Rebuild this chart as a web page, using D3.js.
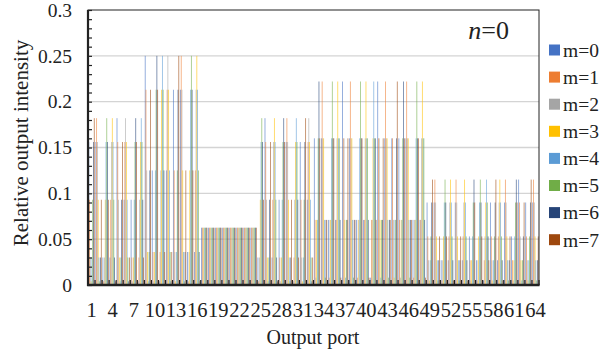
<!DOCTYPE html>
<html>
<head>
<meta charset="utf-8">
<script src="https://cdn.jsdelivr.net/npm/d3@7"></script>
<style>
  html, body { margin: 0; padding: 0; background: #fff; }
  svg { display: block; }
  text { font-family: "Liberation Serif", "Times New Roman", serif; fill: #222; }
</style>
</head>
<body>
<svg id="chart" width="603" height="356"></svg>
<script>
// Output ports 1..64
const ports = d3.range(1, 65).map(String);

// Mode labels and colours
const modes = ["m=0", "m=1", "m=2", "m=3", "m=4", "m=5", "m=6", "m=7"];
const modeColors = ["#4472C4", "#ED7D31", "#A5A5A5", "#FFC000", "#5B9BD5", "#70AD47", "#264478", "#9E480E"];

// Relative output intensity per port, one array per mode
const m0 = [0.156,0.156,0.030,0.030,0.182,0.093,0.093,0.004, 0.250,0.125,0.004,0.125,0.213,0.213,0.036,0.036,
            0.0625,0.0625,0.0625,0.0625,0.0625,0.0625,0.0625,0.0625, 0.030,0.182,0.030,0.093,0.156,0.004,0.156,0.093,
            0.160,0.160,0.071,0.071,0.222,0.160,0.071,0.071,0.008,0.222,0.160,0.160,0.160,0.160,0.071,0.071,
            0.090,0.090,0.027,0.027,0.090,0.027,0.053,0.027,0.005,0.090,0.027,0.090,0.053,0.115,0.090,0.090];
const m1 = [0.093,0.182,0.004,0.093,0.156,0.156,0.030,0.030, 0.213,0.036,0.036,0.213,0.125,0.250,0.004,0.125,
            0.0625,0.0625,0.0625,0.0625,0.0625,0.0625,0.0625,0.0625, 0.004,0.156,0.093,0.030,0.182,0.030,0.093,0.156,
            0.071,0.222,0.008,0.071,0.160,0.222,0.008,0.071,0.071,0.160,0.222,0.160,0.071,0.222,0.008,0.071,
            0.053,0.115,0.005,0.053,0.115,0.053,0.027,0.005,0.027,0.053,0.053,0.115,0.027,0.090,0.053,0.115];
const m2 = [0.030,0.156,0.030,0.156,0.093,0.182,0.004,0.093, 0.125,0.004,0.125,0.250,0.036,0.213,0.036,0.213,
            0.0625,0.0625,0.0625,0.0625,0.0625,0.0625,0.0625,0.0625, 0.030,0.093,0.156,0.004,0.156,0.093,0.030,0.182,
            0.008,0.160,0.071,0.160,0.160,0.160,0.071,0.160,0.071,0.160,0.160,0.071,0.008,0.160,0.071,0.160,
            0.027,0.090,0.027,0.090,0.090,0.090,0.005,0.027,0.053,0.027,0.090,0.090,0.005,0.053,0.027,0.090];
const m3 = [0.004,0.093,0.093,0.182,0.030,0.156,0.030,0.156, 0.036,0.036,0.213,0.213,0.004,0.125,0.125,0.250,
            0.0625,0.0625,0.0625,0.0625,0.0625,0.0625,0.0625,0.0625, 0.093,0.030,0.182,0.030,0.093,0.156,0.004,0.156,
            0.071,0.160,0.071,0.222,0.071,0.160,0.071,0.222,0.160,0.071,0.160,0.008,0.071,0.160,0.071,0.222,
            0.005,0.053,0.053,0.115,0.053,0.115,0.027,0.053,0.090,0.005,0.115,0.053,0.027,0.027,0.005,0.053];
const m4 = [0.030,0.030,0.156,0.156,0.004,0.093,0.093,0.182, 0.004,0.125,0.250,0.125,0.036,0.036,0.213,0.213,
            0.0625,0.0625,0.0625,0.0625,0.0625,0.0625,0.0625,0.0625, 0.156,0.004,0.156,0.093,0.030,0.182,0.030,0.093,
            0.071,0.071,0.160,0.160,0.008,0.071,0.160,0.160,0.222,0.008,0.071,0.071,0.071,0.071,0.160,0.160,
            0.027,0.027,0.090,0.090,0.027,0.090,0.053,0.090,0.115,0.027,0.090,0.027,0.053,0.005,0.027,0.027];
const m5 = [0.093,0.004,0.182,0.093,0.030,0.030,0.156,0.156, 0.036,0.213,0.213,0.036,0.125,0.004,0.250,0.125,
            0.0625,0.0625,0.0625,0.0625,0.0625,0.0625,0.0625,0.0625, 0.182,0.030,0.093,0.156,0.004,0.156,0.093,0.030,
            0.160,0.008,0.222,0.160,0.071,0.008,0.222,0.160,0.160,0.071,0.008,0.071,0.160,0.008,0.222,0.160,
            0.053,0.005,0.115,0.053,0.005,0.053,0.090,0.115,0.090,0.053,0.053,0.005,0.090,0.027,0.053,0.005];
const m6 = [0.156,0.030,0.156,0.030,0.093,0.004,0.182,0.093, 0.125,0.250,0.125,0.004,0.213,0.036,0.213,0.036,
            0.0625,0.0625,0.0625,0.0625,0.0625,0.0625,0.0625,0.0625, 0.156,0.093,0.030,0.182,0.030,0.093,0.156,0.004,
            0.222,0.071,0.160,0.071,0.071,0.071,0.160,0.071,0.160,0.071,0.071,0.160,0.222,0.071,0.160,0.071,
            0.090,0.027,0.090,0.027,0.027,0.027,0.115,0.090,0.053,0.090,0.027,0.027,0.115,0.053,0.090,0.027];
const m7 = [0.182,0.093,0.093,0.004,0.156,0.030,0.156,0.030, 0.213,0.213,0.036,0.036,0.250,0.125,0.125,0.004,
            0.0625,0.0625,0.0625,0.0625,0.0625,0.0625,0.0625,0.0625, 0.093,0.156,0.004,0.156,0.093,0.030,0.182,0.030,
            0.160,0.071,0.160,0.008,0.160,0.071,0.160,0.008,0.071,0.160,0.071,0.222,0.160,0.071,0.160,0.008,
            0.115,0.053,0.053,0.005,0.053,0.005,0.090,0.053,0.027,0.115,0.005,0.053,0.090,0.090,0.115,0.053];

const series = [m0, m1, m2, m3, m4, m5, m6, m7];

// Axis ticks
const yTicks = [0, 0.05, 0.1, 0.15, 0.2, 0.25, 0.3];
const yMinorTicks = d3.range(0, 0.3001, 0.01);
const xTickLabels = ports.filter((p, i) => i % 3 === 0);

const svg = d3.select("#chart");
const plot = { left: 88, right: 539, top: 10, bottom: 285 };

const x = d3.scaleBand().domain(ports).range([plot.left, plot.right]).paddingInner(0.12).paddingOuter(0.06);
const xStep = x.step();
const xm = d3.scaleBand().domain(d3.range(8)).range([0, x.bandwidth()]);
const y = d3.scaleLinear().domain([0, 0.3]).range([plot.bottom, plot.top]);

// Horizontal gridlines
svg.append("g")
  .selectAll("line")
  .data(yTicks.slice(1, -1))
  .join("line")
  .attr("x1", plot.left).attr("x2", plot.right)
  .attr("y1", d => y(d)).attr("y2", d => y(d))
  .attr("stroke", "#d4d4d4").attr("stroke-width", 1.4);

// Bars
const groups = svg.append("g")
  .attr("fill-opacity", 0.72)
  .selectAll("g")
  .data(series)
  .join("g")
  .attr("fill", (d, i) => modeColors[i]);

groups.each(function(vals, mi) {
  d3.select(this).selectAll("rect")
    .data(vals)
    .join("rect")
    .attr("x", (v, pi) => x(ports[pi]) + xm(mi))
    .attr("width", xm.bandwidth())
    .attr("y", v => y(v))
    .attr("height", v => y(0) - y(v));
});

// Frame
svg.append("rect")
  .attr("x", plot.left).attr("y", plot.top)
  .attr("width", plot.right - plot.left).attr("height", plot.bottom - plot.top)
  .attr("fill", "none").attr("stroke", "#222").attr("stroke-width", 1);

// Y axis (inward ticks, minor every 0.01)
const yAxis = svg.append("g").attr("transform", `translate(${plot.left},0)`);
yAxis.call(d3.axisRight(y).tickValues(yMinorTicks).tickSize(4).tickFormat(""))
  .call(g => g.select(".domain").remove())
  .call(g => g.selectAll("line").attr("stroke", "#222").attr("stroke-width", 1.2));
yAxis.append("line")
  .attr("x1", 0).attr("x2", 0).attr("y1", plot.top).attr("y2", plot.bottom + 1)
  .attr("stroke", "#222").attr("stroke-width", 2.2);

svg.append("g")
  .selectAll("text")
  .data(yTicks)
  .join("text")
  .attr("x", 72)
  .attr("y", d => y(d))
  .attr("dy", "0.35em")
  .attr("text-anchor", "end")
  .attr("font-size", 19.5)
  .text(d => d3.format("")(d));

// X axis (inward ticks at port boundaries)
const bounds = ports.map(p => x(p) - (xStep - x.bandwidth()) / 2).concat([plot.right]);
svg.append("g")
  .selectAll("line")
  .data(bounds)
  .join("line")
  .attr("x1", d => d).attr("x2", d => d)
  .attr("y1", plot.bottom).attr("y2", plot.bottom - 5)
  .attr("stroke", "#222").attr("stroke-width", 1.2);
svg.append("line")
  .attr("x1", plot.left - 1).attr("x2", plot.right + 0.5)
  .attr("y1", plot.bottom).attr("y2", plot.bottom)
  .attr("stroke", "#222").attr("stroke-width", 2.5);

svg.append("g")
  .selectAll("text")
  .data(xTickLabels)
  .join("text")
  .attr("x", d => x(d) + x.bandwidth() / 2)
  .attr("y", 317)
  .attr("text-anchor", "middle")
  .attr("font-size", 20.5)
  .text(d => d);

// Axis titles
svg.append("text")
  .attr("x", 313).attr("y", 344)
  .attr("text-anchor", "middle")
  .attr("font-size", 20)
  .text("Output port");

svg.append("text")
  .attr("transform", "translate(28,143) rotate(-90)")
  .attr("text-anchor", "middle")
  .attr("font-size", 21)
  .text("Relative output intensity");

// Panel label
const lab = svg.append("text")
  .attr("x", 509).attr("y", 39)
  .attr("text-anchor", "end")
  .attr("font-size", 26);
lab.append("tspan").attr("font-style", "italic").text("n");
lab.append("tspan").text("=0");

// Legend
const legend = svg.append("g")
  .selectAll("g")
  .data(modes)
  .join("g")
  .attr("transform", (d, i) => `translate(549,${50 + i * 27.1})`);
legend.append("rect")
  .attr("x", 0).attr("y", -5.5).attr("width", 11).attr("height", 11)
  .attr("fill", (d, i) => modeColors[i]);
legend.append("text")
  .attr("x", 14).attr("y", 0).attr("dy", "0.35em")
  .attr("font-size", 19.5)
  .text(d => d);
</script>
</body>
</html>
